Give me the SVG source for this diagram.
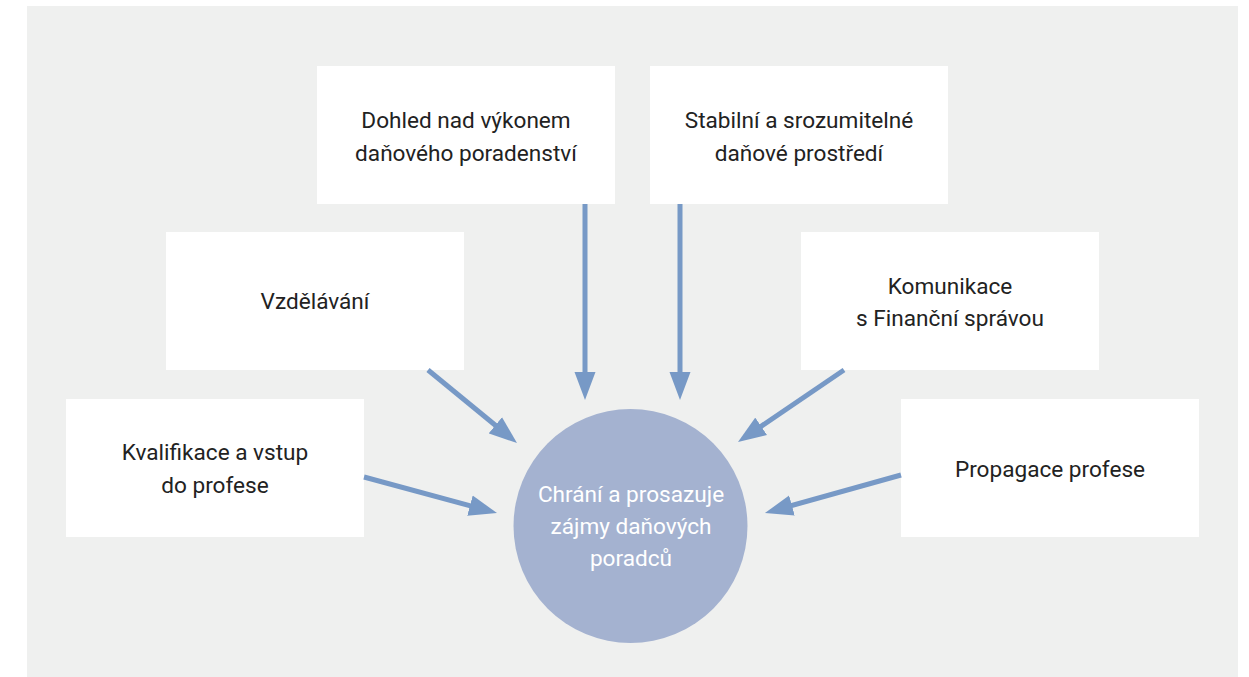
<svg xmlns="http://www.w3.org/2000/svg" width="1249" height="677" viewBox="0 0 1249 677">
<style>
.box{fill:#ffffff}
.t{font-family:Roboto,"Liberation Sans",sans-serif;font-size:22.6px;fill:#222222;text-anchor:middle}
.ct{font-family:Roboto,"Liberation Sans",sans-serif;font-size:22.6px;fill:#ffffff;text-anchor:middle}
.c{stroke:#7799c6;stroke-width:5;fill:none;marker-end:url(#ah)}
</style>
<defs>
<marker id="ah" markerUnits="userSpaceOnUse" markerWidth="28" markerHeight="22" refX="13" refY="11" orient="auto">
<path d="M0,0.5 L28,11 L0,21.5 z" fill="#7799c6"/>
</marker>
</defs>
<rect x="0" y="0" width="1249" height="677" fill="#ffffff"/>
<rect x="27" y="6" width="1211" height="671" fill="#eff0ef"/>
<g id="n-dohled"><rect class="box" x="317" y="66" width="298" height="138"/><text class="t" x="466" y="128">Dohled nad výkonem</text><text class="t" x="466" y="161">daňového poradenství</text></g>
<g id="n-stabilni"><rect class="box" x="650" y="66" width="298" height="138"/><text class="t" x="799" y="128">Stabilní a srozumitelné</text><text class="t" x="799" y="161">daňové prostředí</text></g>
<g id="n-vzdelavani"><rect class="box" x="166" y="232" width="298" height="138"/><text class="t" x="315" y="309">Vzdělávání</text></g>
<g id="n-komunikace"><rect class="box" x="801" y="232" width="298" height="138"/><text class="t" x="950" y="294">Komunikace</text><text class="t" x="950" y="326">s Finanční správou</text></g>
<g id="n-kvalifikace"><rect class="box" x="66" y="399" width="298" height="138"/><text class="t" x="215" y="460">Kvalifikace a vstup</text><text class="t" x="215" y="493">do profese</text></g>
<g id="n-propagace"><rect class="box" x="901" y="399" width="298" height="138"/><text class="t" x="1050" y="477">Propagace profese</text></g>
<g id="connectors">
<line class="c" x1="585" y1="204" x2="585" y2="385"/>
<line class="c" x1="680" y1="204" x2="680" y2="385"/>
<line class="c" x1="428" y1="370" x2="505.4" y2="433.5"/>
<line class="c" x1="364" y1="477" x2="482.5" y2="509.1"/>
<line class="c" x1="844" y1="370" x2="750.4" y2="433.6"/>
<line class="c" x1="901" y1="475" x2="779.4" y2="509"/>
</g>
<g id="n-center"><circle cx="630.5" cy="526" r="117" fill="#a4b2d0"/><text class="ct" x="631" y="502">Chrání a prosazuje</text><text class="ct" x="631" y="534">zájmy daňových</text><text class="ct" x="631" y="566">poradců</text></g>
</svg>
